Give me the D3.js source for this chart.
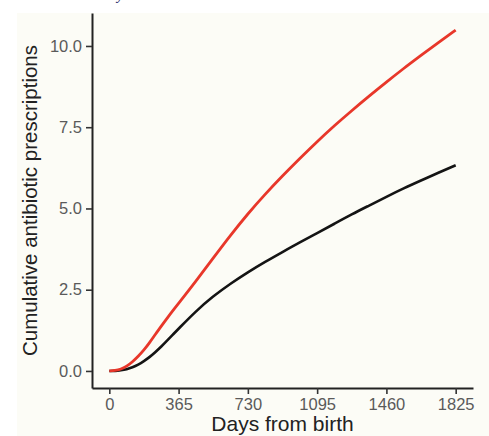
<!DOCTYPE html>
<html>
<head>
<meta charset="utf-8">
<script src="https://cdn.jsdelivr.net/npm/d3@7"></script>
<style>
  body { margin: 0; background: #ffffff; }
  svg { display: block; }
</style>
</head>
<body>
<script>
// days since birth, and cumulative prescriptions for the two groups
var days = [0, 30, 61, 91, 122, 152, 182, 213, 243, 274, 304, 335, 365, 456, 547, 639, 730, 821, 912, 1004, 1095, 1186, 1277, 1369, 1460, 1551, 1642, 1734, 1825]
var redSeries = [0, 0.01, 0.05, 0.14, 0.28, 0.45, 0.64, 0.88, 1.13, 1.38, 1.62, 1.86, 2.08, 2.76, 3.47, 4.18, 4.84, 5.44, 6.00, 6.54, 7.06, 7.55, 8.01, 8.46, 8.89, 9.31, 9.71, 10.11, 10.49]
var blackSeries = [0, 0.0, 0.02, 0.05, 0.11, 0.19, 0.30, 0.43, 0.58, 0.75, 0.93, 1.12, 1.30, 1.84, 2.30, 2.69, 3.04, 3.36, 3.66, 3.96, 4.24, 4.53, 4.82, 5.09, 5.36, 5.62, 5.86, 6.10, 6.33]
var xTicks = [0, 365, 730, 1095, 1460, 1825]
var yTicks = [0, 2.5, 5, 7.5, 10]

var W = 489, H = 436
var panel = {left: 92, right: 473, top: 13, bottom: 388}

var svg = d3.select("body").append("svg")
  .attr("width", W)
  .attr("height", H)

// cream background
svg.append("rect")
  .attr("x", 17).attr("y", 13)
  .attr("width", W - 17).attr("height", H - 13)
  .attr("fill", "#fcfcf6")

// cut-off caption fragment at the very top
svg.append("text")
  .attr("x", 117).attr("y", 0)
  .attr("font-family", "Liberation Serif")
  .attr("font-style", "italic")
  .attr("font-size", 14)
  .attr("fill", "#1c2466")
  .text("y")

// ggplot-like 5% expansion
var xPad = 1825 * 0.05
var yMax = d3.max(redSeries)
var yPad = yMax * 0.05

var x = d3.scaleLinear()
  .domain([-xPad, 1825 + xPad])
  .range([panel.left, panel.right])

var y = d3.scaleLinear()
  .domain([-yPad, yMax + yPad])
  .range([panel.bottom, panel.top])

svg.append("g")
  .attr("transform", "translate(0," + panel.bottom + ")")
  .call(d3.axisBottom(x).tickValues(xTicks).tickSize(6).tickPadding(4).tickSizeOuter(0)
    .tickFormat(d3.format("d")))

svg.append("g")
  .attr("transform", "translate(" + panel.left + ",0)")
  .call(d3.axisLeft(y).tickValues(yTicks).tickSize(6).tickPadding(4).tickSizeOuter(0)
    .tickFormat(d3.format(".1f")))

svg.selectAll(".domain")
  .attr("stroke", "#222")
  .attr("stroke-width", 2)
svg.selectAll(".tick line")
  .attr("stroke", "#333")
  .attr("stroke-width", 1.6)
svg.selectAll(".tick text")
  .attr("font-family", "Liberation Sans, Arial, sans-serif")
  .attr("font-size", 16.5)
  .attr("fill", "#5a5a5a")

// curves
var line = d3.line()
  .x(function(d){ return x(d[0]) })
  .y(function(d){ return y(d[1]) })
  .curve(d3.curveBasis)

var blackData = days.map(function(d, i){ return [d, blackSeries[i]] })
var redData = days.map(function(d, i){ return [d, redSeries[i]] })

svg.append("path")
  .datum(blackData)
  .attr("d", line)
  .attr("fill", "none")
  .attr("stroke", "#141414")
  .attr("stroke-width", 2.6)

svg.append("path")
  .datum(redData)
  .attr("d", line)
  .attr("fill", "none")
  .attr("stroke", "#e8372a")
  .attr("stroke-width", 2.8)

// axis titles
svg.append("text")
  .attr("x", (panel.left + panel.right) / 2)
  .attr("y", 431)
  .attr("text-anchor", "middle")
  .attr("font-family", "Liberation Sans, Arial, sans-serif")
  .attr("font-size", 21)
  .attr("fill", "#222")
  .text("Days from birth")

svg.append("text")
  .attr("transform", "translate(37," + ((panel.top + panel.bottom) / 2) + ") rotate(-90)")
  .attr("text-anchor", "middle")
  .attr("font-family", "Liberation Sans, Arial, sans-serif")
  .attr("font-size", 20.5)
  .attr("fill", "#222")
  .text("Cumulative antibiotic prescriptions")
</script>
</body>
</html>
